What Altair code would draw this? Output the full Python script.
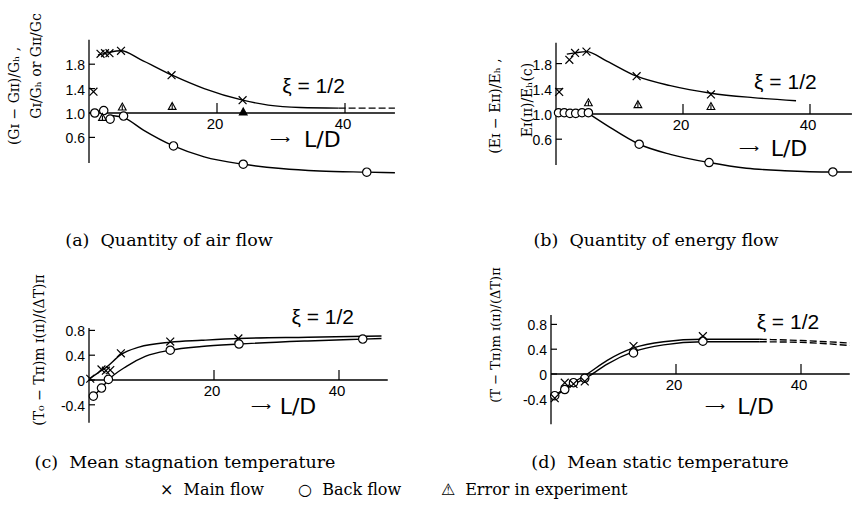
import altair as alt
import pandas as pd

# ---------------- data ----------------
# (a) Quantity of air flow
a_main_x = [0.7, 1.8, 2.5, 3.2, 5.0, 12.9, 24.0]
a_main_y = [1.35, 1.97, 1.98, 1.98, 2.02, 1.62, 1.21]
a_back_x = [0.9, 2.3, 3.3, 5.4, 13.2, 24.1, 43.4]
a_back_y = [1.00, 1.04, 0.90, 0.95, 0.46, 0.16, 0.03]
a_err_x = [2.1, 5.2, 13.0, 24.1]
a_err_y = [0.93, 1.10, 1.11, 1.02]
a_err_filled = [False, False, False, True]
a_main_curve_x = [1.4, 3, 5, 8, 13, 18, 24, 28, 33, 39]
a_main_curve_y = [1.95, 1.99, 2.02, 1.88, 1.62, 1.40, 1.21, 1.13, 1.09, 1.08]
a_main_dash_x = [39, 47.8]
a_main_dash_y = [1.08, 1.08]
a_back_curve_x = [3.5, 5.5, 8.5, 13.2, 18, 24.1, 30, 36, 43.4, 47.8]
a_back_curve_y = [0.96, 0.92, 0.72, 0.46, 0.28, 0.16, 0.09, 0.05, 0.03, 0.02]

# (b) Quantity of energy flow
b_main_x = [0.5, 2.1, 3.0, 4.8, 12.7, 24.4]
b_main_y = [1.35, 1.86, 1.97, 1.99, 1.60, 1.31]
b_back_x = [0.4, 1.3, 2.2, 3.1, 4.1, 5.1, 13.1, 24.1, 43.6]
b_back_y = [1.02, 1.02, 1.01, 1.01, 1.02, 1.02, 0.52, 0.23, 0.08]
b_err_x = [5.1, 12.9, 24.4]
b_err_y = [1.18, 1.15, 1.12]
b_err_filled = [False, False, False]
b_main_curve_x = [1.7, 3, 4.8, 8, 12.7, 18, 24.4, 31, 37.8]
b_main_curve_y = [1.95, 1.97, 1.99, 1.84, 1.60, 1.45, 1.33, 1.26, 1.21]
b_back_curve_x = [5.1, 8, 13.1, 18, 24.1, 30, 36, 43.6, 46.6]
b_back_curve_y = [1.01, 0.82, 0.52, 0.36, 0.23, 0.14, 0.10, 0.08, 0.08]

# (c) Mean stagnation temperature
c_main_x = [0.2, 2.0, 2.7, 3.4, 5.1, 13.0, 23.9]
c_main_y = [0.02, 0.17, 0.15, 0.16, 0.43, 0.62, 0.67]
c_back_x = [0.7, 2.0, 3.1, 13.0, 24.0, 43.8]
c_back_y = [-0.26, -0.13, 0.01, 0.48, 0.58, 0.66]
c_main_curve_x = [0.2, 1.5, 2.7, 5.1, 8, 13, 18, 24, 35, 46.8]
c_main_curve_y = [0.03, 0.12, 0.20, 0.41, 0.53, 0.61, 0.64, 0.67, 0.69, 0.71]
c_back_curve_x = [0.7, 2.0, 3.1, 6, 9, 13, 18, 24, 35, 43.8, 46.8]
c_back_curve_y = [-0.26, -0.13, 0.0, 0.22, 0.38, 0.48, 0.54, 0.58, 0.63, 0.66, 0.67]

# (d) Mean static temperature
d_main_x = [0.6, 2.2, 3.6, 5.4, 13.2, 24.3]
d_main_y = [-0.39, -0.14, -0.16, -0.12, 0.45, 0.61]
d_back_x = [0.6, 2.2, 3.6, 5.4, 13.2, 24.3]
d_back_y = [-0.35, -0.25, -0.14, -0.07, 0.34, 0.53]
d_main_curve_x = [0.5, 3, 5.5, 9, 13.2, 18, 24.3, 33.4]
d_main_curve_y = [-0.36, -0.17, -0.02, 0.22, 0.42, 0.52, 0.56, 0.56]
d_main_dash_x = [33.4, 40, 47.8]
d_main_dash_y = [0.56, 0.54, 0.50]
d_back_curve_x = [0.5, 3, 6, 9, 13.2, 18, 24.3, 33.4]
d_back_curve_y = [-0.37, -0.20, -0.04, 0.16, 0.36, 0.47, 0.52, 0.52]
d_back_dash_x = [33.4, 40, 47.8]
d_back_dash_y = [0.52, 0.51, 0.46]

# axes
ab_yticks = [0.6, 1.0, 1.4, 1.8]
ab_ylabels = ["0.6", "1.0", "1.4", "1.8"]
cd_yticks = [-0.4, 0.0, 0.4, 0.8]
cd_ylabels = ["-0.4", "0", "0.4", "0.8"]
x_ticks = [20, 40]
x_labels = ["20", "40"]

# ---------------- layout (pixels) ----------------
PANELS = {
    "a": dict(x0=89, kx=6.4, yref=1.0, ypx=113, ky=61, ylo=0.0, yhi=2.25,
              yaxis=(0.18, 2.2), xend=47.8),
    "b": dict(x0=556, kx=6.35, yref=1.0, ypx=114, ky=63, ylo=0.0, yhi=2.25,
              yaxis=(0.19, 2.13), xend=46.6),
    "c": dict(x0=89, kx=6.25, yref=0.0, ypx=380, ky=62, ylo=-0.8, yhi=0.9,
              yaxis=(-0.69, 0.84), xend=47.8),
    "d": dict(x0=551, kx=6.25, yref=0.0, ypx=374, ky=62, ylo=-0.85, yhi=1.0,
              yaxis=(-0.81, 0.95), xend=47.8),
}

SANS = "Liberation Sans"
SERIF = "DejaVu Serif"
NB = "\u00a0"

CROSS = "M-1,-1L1,1M-1,1L1,-1"
TRI = "M0,-1L1,0.8L-1,0.8Z M0,-0.45L0,0.8"


def scales(p):
    c = PANELS[p]
    xs = alt.Scale(domain=[0, 48], range=[c["x0"], c["x0"] + 48 * c["kx"]],
                   zero=False, nice=False)
    ys = alt.Scale(domain=[c["ylo"], c["yhi"]],
                   range=[c["ypx"] + (c["yref"] - c["ylo"]) * c["ky"],
                          c["ypx"] - (c["yhi"] - c["yref"]) * c["ky"]],
                   zero=False, nice=False)
    return xs, ys


def xy(p):
    xs, ys = scales(p)
    return dict(x=alt.X("x:Q", scale=xs, axis=None),
                y=alt.Y("y:Q", scale=ys, axis=None))


layers = []


def add_line(p, xv, yv, dash=False):
    df = pd.DataFrame({"x": xv, "y": yv})
    kw = dict(color="black", strokeWidth=1.4, interpolate="monotone")
    if dash:
        kw["strokeDash"] = [7, 3]
    layers.append(alt.Chart(df).mark_line(**kw).encode(**xy(p)))


def add_points(p, xv, yv, kind, filled=None):
    df = pd.DataFrame({"x": xv, "y": yv})
    if kind == "main":
        m = alt.Chart(df).mark_point(shape=CROSS, size=62, stroke="black",
                                     strokeWidth=1.2, filled=False, opacity=1)
        layers.append(m.encode(**xy(p)))
    elif kind == "back":
        m = alt.Chart(df).mark_point(shape="circle", size=70, stroke="black",
                                     fill="white", fillOpacity=1,
                                     strokeWidth=1.2, opacity=1)
        layers.append(m.encode(**xy(p)))
    else:
        df["f"] = filled
        m = alt.Chart(df).mark_point(shape=TRI, size=60, stroke="black",
                                     strokeWidth=1.1, opacity=1)
        layers.append(m.encode(
            **xy(p),
            fill=alt.condition("datum.f", alt.value("black"), alt.value("white")),
        ))


def add_axes(p, yt, yl):
    c = PANELS[p]
    xs, ys = scales(p)
    # y axis line
    df = pd.DataFrame({"x": [0], "y": [c["yaxis"][0]], "y2": [c["yaxis"][1]]})
    layers.append(alt.Chart(df).mark_rule(color="black", strokeWidth=1.3).encode(
        x=alt.X("x:Q", scale=xs, axis=None),
        y=alt.Y("y:Q", scale=ys, axis=None), y2="y2:Q"))
    # horizontal reference axis
    df = pd.DataFrame({"x": [0], "x2": [c["xend"]], "y": [c["yref"]]})
    layers.append(alt.Chart(df).mark_rule(color="black", strokeWidth=1.3).encode(
        x=alt.X("x:Q", scale=xs, axis=None), x2="x2:Q",
        y=alt.Y("y:Q", scale=ys, axis=None)))
    # y ticks (inward)
    df = pd.DataFrame({"x": [0] * len(yt), "x2": [6 / c["kx"]] * len(yt), "y": yt})
    layers.append(alt.Chart(df).mark_rule(color="black", strokeWidth=1.2).encode(
        x=alt.X("x:Q", scale=xs, axis=None), x2="x2:Q",
        y=alt.Y("y:Q", scale=ys, axis=None)))
    df = pd.DataFrame({"x": [0] * len(yt), "y": yt, "t": yl})
    layers.append(alt.Chart(df).mark_text(align="right", baseline="middle", dx=-4, dy=2,
                                          font=SANS, fontSize=14, color="black").encode(
        x=alt.X("x:Q", scale=xs, axis=None),
        y=alt.Y("y:Q", scale=ys, axis=None), text="t:N"))
    # x ticks (upward) and labels
    df = pd.DataFrame({"x": x_ticks, "y": [c["yref"]] * 2,
                       "y2": [c["yref"] + 10 / c["ky"]] * 2})
    layers.append(alt.Chart(df).mark_rule(color="black", strokeWidth=1.2).encode(
        x=alt.X("x:Q", scale=xs, axis=None),
        y=alt.Y("y:Q", scale=ys, axis=None), y2="y2:Q"))
    df = pd.DataFrame({"x": x_ticks, "y": [c["yref"]] * 2, "t": x_labels})
    layers.append(alt.Chart(df).mark_text(align="center", baseline="middle", dy=11, dx=-2,
                                          font=SANS, fontSize=15, color="black").encode(
        x=alt.X("x:Q", scale=xs, axis=None),
        y=alt.Y("y:Q", scale=ys, axis=None), text="t:N"))


def add_note(p, xv, yv, txt, size, font=SANS, align="left"):
    xs, ys = scales(p)
    df = pd.DataFrame({"x": [xv], "y": [yv], "t": [txt]})
    layers.append(alt.Chart(df).mark_text(align=align, baseline="middle", font=font,
                                          fontSize=size, color="black").encode(
        x=alt.X("x:Q", scale=xs, axis=None),
        y=alt.Y("y:Q", scale=ys, axis=None), text="t:N"))


def add_label(x, y, txt, size, font=SERIF, angle=0, align="center"):
    df = pd.DataFrame({"t": [txt]})
    layers.append(alt.Chart(df).mark_text(align=align, baseline="middle", font=font,
                                          fontSize=size, angle=angle, color="black").encode(
        x=alt.value(x), y=alt.value(y), text="t:N"))


# ---- panel a ----
add_axes("a", ab_yticks, ab_ylabels)
add_line("a", a_main_curve_x, a_main_curve_y)
add_line("a", a_main_dash_x, a_main_dash_y, dash=True)
add_line("a", a_back_curve_x, a_back_curve_y)
add_points("a", a_main_x, a_main_y, "main")
add_points("a", a_back_x, a_back_y, "back")
add_points("a", a_err_x, a_err_y, "err", a_err_filled)
add_note("a", 30.2, 1.42, "ξ = 1/2", 21)
add_note("a", 28.3, 0.55, "⟶", 14)
add_note("a", 33.6, 0.55, "L/D", 22, font="DejaVu Sans")

# ---- panel b ----
add_axes("b", ab_yticks, ab_ylabels)
add_line("b", b_main_curve_x, b_main_curve_y)
add_line("b", b_back_curve_x, b_back_curve_y)
add_points("b", b_main_x, b_main_y, "main")
add_points("b", b_back_x, b_back_y, "back")
add_points("b", b_err_x, b_err_y, "err", b_err_filled)
add_note("b", 31.2, 1.5, "ξ = 1/2", 21)
add_note("b", 28.8, 0.45, "⟶", 14)
add_note("b", 33.8, 0.45, "L/D", 22, font="DejaVu Sans")

# ---- panel c ----
add_axes("c", cd_yticks, cd_ylabels)
add_line("c", c_main_curve_x, c_main_curve_y)
add_line("c", c_back_curve_x, c_back_curve_y)
add_points("c", c_main_x, c_main_y, "main")
add_points("c", c_back_x, c_back_y, "back")
add_note("c", 32.4, 1.0, "ξ = 1/2", 21)
add_note("c", 25.9, -0.43, "⟶", 14)
add_note("c", 30.5, -0.43, "L/D", 22, font="DejaVu Sans")

# ---- panel d ----
add_axes("d", cd_yticks, cd_ylabels)
add_line("d", d_main_curve_x, d_main_curve_y)
add_line("d", d_main_dash_x, d_main_dash_y, dash=True)
add_line("d", d_back_curve_x, d_back_curve_y)
add_line("d", d_back_dash_x, d_back_dash_y, dash=True)
add_points("d", d_back_x, d_back_y, "back")
add_points("d", d_main_x, d_main_y, "main")
add_note("d", 32.9, 0.82, "ξ = 1/2", 21)
add_note("d", 24.6, -0.53, "⟶", 14)
add_note("d", 29.8, -0.53, "L/D", 22, font="DejaVu Sans")

# ---- axis titles (rotated) ----
add_label(15, 96, "(Gɪ − Gɪɪ)/Gₕ ,", 14, angle=270)
add_label(37, 66, "Gɪ/Gₕ or Gɪɪ/Gc", 14, angle=270)
add_label(496, 106, "(Eɪ − Eɪɪ)/Eₕ ,", 14, angle=270)
add_label(528, 100, "Eɪ(ɪɪ)/Eₕ(c)", 14, angle=270)
add_label(40, 350, "(T₀ − Tπ)m ɪ(ɪɪ)/(ΔT)π", 14, angle=270)
add_label(496, 335, "(T − Tπ)m ɪ(ɪɪ)/(ΔT)π", 13, angle=270)

# ---- captions & legend ----
add_label(169, 241, "(a)" + NB + NB + "Quantity of air flow", 17.5)
add_label(656, 241, "(b)" + NB + NB + "Quantity of energy flow", 17.5)
add_label(185, 463, "(c)" + NB + NB + "Mean stagnation temperature", 17.5)
add_label(660, 463, "(d)" + NB + NB + "Mean static temperature", 17.5)
add_label(160, 490, "×" + NB + NB + "Main flow", 16, align="left")
add_label(298, 490, "○" + NB + NB + "Back flow", 16, align="left")
add_label(441, 490, "⚠" + NB + NB + "Error in experiment", 16, align="left")

chart = alt.layer(*layers).resolve_scale(x="independent", y="independent").properties(
    width=852, height=505, padding=0, autosize="none", background="white"
).configure_view(stroke=None)

chart.save("out.html", embed_options={"renderer": "svg", "actions": False})
